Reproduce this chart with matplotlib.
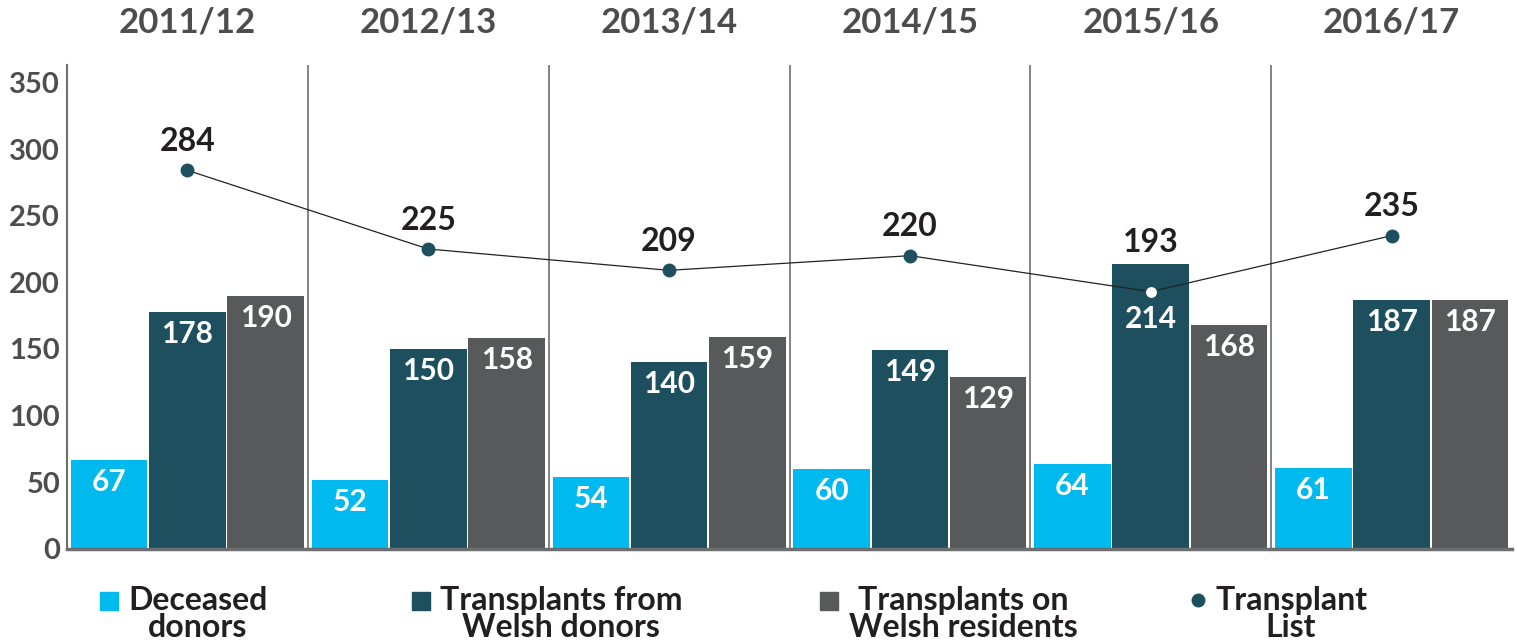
import numpy as np
import matplotlib.pyplot as plt
from matplotlib.patches import Rectangle
from matplotlib.transforms import blended_transform_factory

plt.rcParams['font.family'] = ['Lato', 'DejaVu Sans']
plt.rcParams['font.weight'] = 'bold'

years = ["2011/12", "2012/13", "2013/14", "2014/15", "2015/16", "2016/17"]
deceased = [67, 52, 54, 60, 64, 61]
from_welsh = [178, 150, 140, 149, 214, 187]
on_welsh = [190, 158, 159, 129, 168, 187]
transplant_list = [284, 225, 209, 220, 193, 235]

c_cyan = "#00b9ef"
c_teal = "#1d4f5e"
c_grey = "#58595b"
c_axis = "#6d6e70"

W, H = 1517.0, 643.0
fig = plt.figure(figsize=(15.17, 6.43), dpi=100)
ax = fig.add_axes([0.0442, 0.1462, 0.9525, 0.7527])

x = np.arange(len(years))
w = 0.318
off = 0.325
b1 = ax.bar(x - off, deceased, w, color=c_cyan)
b2 = ax.bar(x, from_welsh, w, color=c_teal)
b3 = ax.bar(x + off, on_welsh, w, color=c_grey)

# value labels inside the bars
for bars in (b1, b2, b3):
    for i, r in enumerate(bars):
        v = r.get_height()
        shift = -22
        # push label down when the list marker sits on the bar
        if bars is b2 and v > transplant_list[i] - 25:
            shift = -55
        ax.annotate(str(int(v)), (r.get_x() + r.get_width() / 2, v),
                    xytext=(0, shift), textcoords='offset pixels',
                    ha='center', va='center', color='white',
                    fontsize=21.5, fontweight='bold')

# transplant list line
ax.plot(x, transplant_list, color='#222222', lw=0.9, zorder=3)
for i, v in enumerate(transplant_list):
    on_bar = v < from_welsh[i]
    ax.plot(x[i], v, 'o', ms=9 if on_bar else 10,
            mfc='white' if on_bar else c_teal,
            mec=c_teal, mew=1.2 if on_bar else 0, zorder=4)
    dy = 49 if on_bar else 29
    ax.annotate(str(v), (x[i], v), xytext=(0, dy), textcoords='offset pixels',
                ha='center', va='center', color='#231f20',
                fontsize=23, fontweight='bold')

# group dividers
for d in x[:-1] + 0.5:
    ax.axvline(d, color=c_axis, lw=1.2, zorder=0)

ax.set_xlim(-0.5, 5.5)
ax.set_ylim(0, 363)
ax.set_yticks(range(0, 351, 50))
ax.set_xticks([])
ax.tick_params(axis='y', length=0, pad=5, labelsize=21, labelcolor='#4d4d4f')
for s in ('top', 'right'):
    ax.spines[s].set_visible(False)
ax.spines['left'].set_color(c_axis)
ax.spines['left'].set_linewidth(1.5)
ax.spines['bottom'].set_color(c_axis)
ax.spines['bottom'].set_linewidth(2.5)

# year headings above each group
head_tr = blended_transform_factory(ax.transData, fig.transFigure)
for i, yr in enumerate(years):
    ax.text(x[i], 1 - 22 / H, yr, transform=head_tr,
            ha='center', va='center', fontsize=25, fontweight='bold',
            color='#4d4d4f')

# legend
leg_items = [
    ("Deceased\ndonors", c_cyan, 'sq', 109, 128),
    ("Transplants from\nWelsh donors", c_teal, 'sq', 421, 440),
    ("Transplants on\nWelsh residents", c_grey, 'sq', 829, 849),
    ("Transplant\nList", c_teal, 'dot', 1198, 1215),
]
for label, col, kind, mx, tx in leg_items:
    if kind == 'sq':
        fig.patches.append(Rectangle(((mx - 9) / W, 1 - 610 / H), 18 / W, 18 / H,
                                     transform=fig.transFigure, color=col))
    else:
        fig.lines.append(plt.Line2D([mx / W], [1 - 600 / H], marker='o', ms=9,
                                    color=col, transform=fig.transFigure))
    fig.text(tx / W, 1 - 614 / H, label, ha='left', va='center',
             multialignment='center',
             fontsize=23, fontweight='bold', color='#231f20',
             linespacing=0.95)

fig.savefig("out.png", dpi=100)
